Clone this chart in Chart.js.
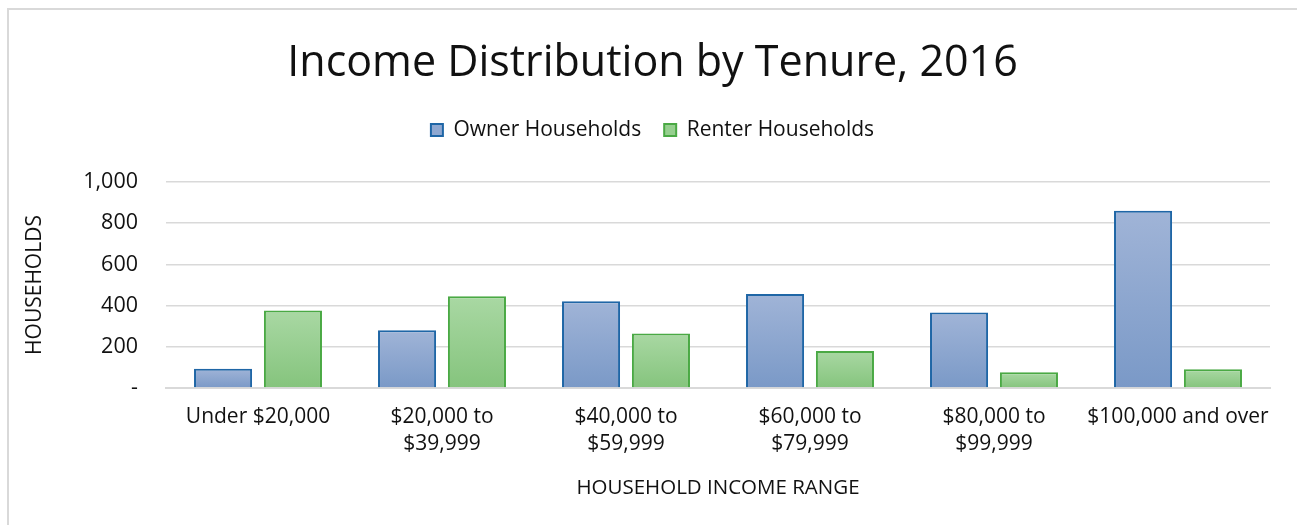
<!DOCTYPE html>
<html>
<head>
<meta charset="utf-8">
<script src="https://cdn.jsdelivr.net/npm/chart.js@4.4.0/dist/chart.umd.min.js"></script>
<style>
  html, body { margin: 0; padding: 0; background: #ffffff; overflow: hidden; }
  #frame { position: absolute; left: 7px; top: 8px; width: 1400px; height: 700px; border-left: 2px solid #d9d9d9; border-top: 2px solid #d9d9d9; }
  #wrap { position: absolute; left: 0; top: 0; width: 1297px; height: 525px; }
</style>
</head>
<body>
<div id="frame"></div>
<div id="wrap"><canvas id="c" width="1297" height="525"></canvas></div>
<script>
const categories = [
  'Under $20,000',
  ['$20,000 to', '$39,999'],
  ['$40,000 to', '$59,999'],
  ['$60,000 to', '$79,999'],
  ['$80,000 to', '$99,999'],
  '$100,000 and over'
];
const ownerHouseholds = [94, 280, 421, 456, 366, 861];
const renterHouseholds = [376, 445, 265, 180, 76, 91];
const yTicks = [0, 200, 400, 600, 800, 1000];

const FONT = '"Open Sans"';
const TEXT = '#111111';

function barGradient(top, bottom) {
  return function (ctx) {
    const chart = ctx.chart;
    const y = chart.scales && chart.scales.y;
    if (!chart.chartArea || !y || ctx.type !== 'data') return top;
    const v = ctx.raw;
    const yTop = y.getPixelForValue(v);
    const yBot = y.getPixelForValue(0);
    if (!isFinite(yTop) || !isFinite(yBot) || yTop === yBot) return top;
    const g = chart.ctx.createLinearGradient(0, yTop, 0, yBot);
    g.addColorStop(0, top);
    g.addColorStop(1, bottom);
    return g;
  };
}

const legendSpacer = {
  id: 'legendSpacer',
  beforeLayout(chart) {
    const lg = chart.legend;
    if (lg && !lg._spacerPatched) {
      const orig = lg.fit;
      lg.fit = function () { orig.call(this); this.height += 31.5; };
      lg._spacerPatched = true;
    }
  }
};

new Chart(document.getElementById('c'), {
  type: 'bar',
  data: {
    labels: categories,
    datasets: [
      {
        label: 'Owner Households',
        data: ownerHouseholds,
        backgroundColor: barGradient('#a0b4d7', '#7a99c7'),
        borderColor: '#1f66a6',
        borderWidth: 2,
        borderSkipped: 'bottom',
        categoryPercentage: 0.76,
        barPercentage: 0.83
      },
      {
        label: 'Renter Households',
        data: renterHouseholds,
        backgroundColor: barGradient('#a9d8a3', '#85c47d'),
        borderColor: '#4aa944',
        borderWidth: 2,
        borderSkipped: 'bottom',
        categoryPercentage: 0.76,
        barPercentage: 0.83
      }
    ]
  },
  plugins: [legendSpacer],
  options: {
    responsive: false,
    animation: false,
    layout: { padding: { left: 35, right: 27, top: 10, bottom: 0 } },
    plugins: {
      title: {
        display: true,
        text: 'Income Distribution by Tenure, 2016',
        color: TEXT,
        font: { family: FONT, size: 43, weight: 'normal', lineHeight: 1.2 },
        padding: { top: 28.2, bottom: 6.7 }
      },
      legend: {
        display: true,
        position: 'top',
        labels: {
          color: TEXT,
          font: { family: FONT, size: 21 },
          boxWidth: 12,
          boxHeight: 12,
          padding: 23,
          generateLabels: function (chart) {
            const fills = ['#8fa8d1', '#96cf8f'];
            return chart.data.datasets.map((ds, i) => ({
              text: ds.label,
              fillStyle: fills[i],
              strokeStyle: ds.borderColor,
              lineWidth: 2,
              datasetIndex: i,
              hidden: false,
              fontColor: TEXT
            }));
          }
        }
      },
      tooltip: { enabled: false }
    },
    scales: {
      x: {
        grid: { display: false, drawTicks: false },
        border: { display: true, color: '#d9d9d9', width: 2 },
        ticks: {
          color: TEXT,
          font: { family: FONT, size: 21, lineHeight: 1.286 },
          padding: 16,
          maxRotation: 0,
          autoSkip: false
        },
        title: {
          display: true,
          text: 'HOUSEHOLD INCOME RANGE',
          color: TEXT,
          font: { family: FONT, size: 20.5, lineHeight: 1.2 },
          padding: { top: 4, bottom: 24.7 }
        },
        afterFit: function (scale) { scale.height = 137; }
      },
      y: {
        min: 0,
        max: 1000,
        afterBuildTicks: function (scale) { scale.ticks = yTicks.map(v => ({ value: v })); },
        grid: { color: '#d9d9d9', lineWidth: 1.5, drawTicks: false },
        border: { display: false },
        ticks: {
          color: TEXT,
          font: { family: FONT, size: 21.5 },
          padding: 28,
          callback: function (v) { return v === 0 ? '-' : v.toLocaleString('en-US'); }
        },
        title: {
          display: true,
          text: 'HOUSEHOLDS',
          color: TEXT,
          font: { family: FONT, size: 21, lineHeight: 1.2 },
          padding: { top: -12.6, bottom: 0 }
        },
        afterFit: function (scale) { scale.width = 131; }
      }
    }
  }
});
</script>
</body>
</html>
